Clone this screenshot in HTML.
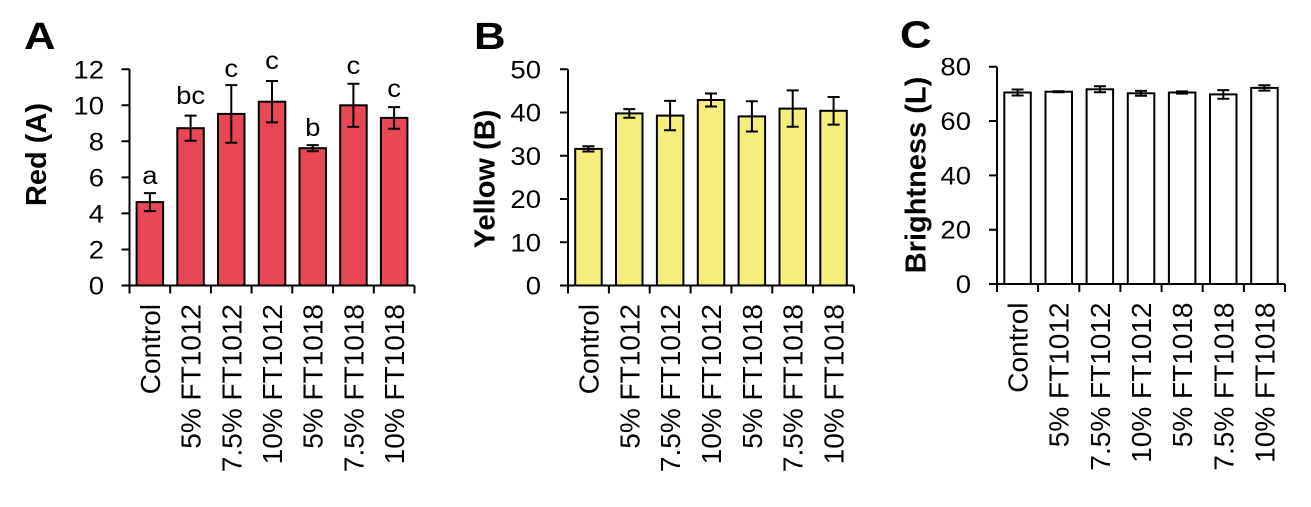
<!DOCTYPE html>
<html><head><meta charset="utf-8"><style>
html,body{margin:0;padding:0;background:#fff;}
svg{display:block;}
text{font-family:"Liberation Sans",Arial,sans-serif;fill:#000;}
.t{font-size:25px;}
.xl{font-size:28px;}
.yt{font-size:29px;font-weight:bold;}
.pl{font-size:38px;font-weight:bold;}
</style></head><body>
<svg width="1311" height="507" viewBox="0 0 1311 507" xmlns="http://www.w3.org/2000/svg">
<rect x="0" y="0" width="1311" height="507" fill="#fff"/>

<!-- ================= PANEL A ================= -->
<text class="pl" transform="translate(24,49) scale(1.15,1)">A</text>
<text class="yt" transform="translate(46,154.5) rotate(-90)" text-anchor="middle">Red (A)</text>
<g stroke="#000" stroke-width="2" fill="#E84855">
<rect x="136.6" y="202.1" width="26.5" height="83.4"/>
<rect x="177.3" y="128.2" width="26.5" height="157.3"/>
<rect x="218.0" y="113.9" width="26.5" height="171.6"/>
<rect x="258.8" y="101.7" width="26.5" height="183.8"/>
<rect x="299.5" y="148.2" width="26.5" height="137.3"/>
<rect x="340.2" y="105.3" width="26.5" height="180.2"/>
<rect x="380.9" y="117.9" width="26.5" height="167.6"/>
</g>
<g stroke="#000" stroke-width="2" fill="none">
<path d="M149.9 193.1V211.1M143.9 193.1H155.9M143.9 211.1H155.9"/>
<path d="M190.6 115.6V140.8M184.6 115.6H196.6M184.6 140.8H196.6"/>
<path d="M231.3 85.1V142.7M225.3 85.1H237.3M225.3 142.7H237.3"/>
<path d="M272.0 81.0V122.4M266.0 81.0H278.0M266.0 122.4H278.0"/>
<path d="M312.7 145.1V151.3M306.7 145.1H318.7M306.7 151.3H318.7"/>
<path d="M353.4 83.7V126.9M347.4 83.7H359.4M347.4 126.9H359.4"/>
<path d="M394.1 107.1V128.7M388.1 107.1H400.1M388.1 128.7H400.1"/>
<path d="M129.5 69.3V285.5"/>
<path d="M121.5 285.5H414.5"/>
<path d="M121.5 69.3H129.5M121.5 105.3H129.5M121.5 141.3H129.5M121.5 177.4H129.5M121.5 213.4H129.5M121.5 249.5H129.5"/>
<path d="M129.5 285.5V293.5M170.2 285.5V293.5M210.9 285.5V293.5M251.6 285.5V293.5M292.3 285.5V293.5M333.1 285.5V293.5M373.8 285.5V293.5M414.5 285.5V293.5"/>
</g>
<g class="t" text-anchor="end">
<text transform="translate(104,78.3) scale(1.1,1)">12</text>
<text transform="translate(104,114.3) scale(1.1,1)">10</text>
<text transform="translate(104,150.3) scale(1.1,1)">8</text>
<text transform="translate(104,186.4) scale(1.1,1)">6</text>
<text transform="translate(104,222.4) scale(1.1,1)">4</text>
<text transform="translate(104,258.5) scale(1.1,1)">2</text>
<text transform="translate(104,294.5) scale(1.1,1)">0</text>
</g>
<g class="t" text-anchor="middle">
<text transform="translate(149.9,184) scale(1.1,1)">a</text>
<text transform="translate(190.6,104) scale(1.1,1)">bc</text>
<text transform="translate(231.3,77) scale(1.1,1)">c</text>
<text transform="translate(272.0,69) scale(1.1,1)">c</text>
<text transform="translate(312.7,136) scale(1.1,1)">b</text>
<text transform="translate(353.4,74) scale(1.1,1)">c</text>
<text transform="translate(394.1,97) scale(1.1,1)">c</text>
</g>
<g class="xl" text-anchor="end">
<text transform="translate(159.9,304) rotate(-90)">Control</text>
<text transform="translate(200.6,304) rotate(-90)">5% FT1012</text>
<text transform="translate(241.3,304) rotate(-90)">7.5% FT1012</text>
<text transform="translate(282.0,304) rotate(-90)">10% FT1012</text>
<text transform="translate(322.7,304) rotate(-90)">5% FT1018</text>
<text transform="translate(363.4,304) rotate(-90)">7.5% FT1018</text>
<text transform="translate(404.1,304) rotate(-90)">10% FT1018</text>
</g>

<!-- ================= PANEL B ================= -->
<text class="pl" transform="translate(474,49) scale(1.15,1)">B</text>
<text class="yt" transform="translate(494.7,179) rotate(-90)" text-anchor="middle">Yellow (B)</text>
<g stroke="#000" stroke-width="2" fill="#F4EE7C">
<rect x="575.2" y="148.9" width="26.5" height="136.6"/>
<rect x="616.0" y="113.4" width="26.5" height="172.1"/>
<rect x="656.9" y="115.6" width="26.5" height="169.9"/>
<rect x="697.8" y="100.0" width="26.5" height="185.5"/>
<rect x="738.6" y="116.4" width="26.5" height="169.1"/>
<rect x="779.5" y="108.6" width="26.5" height="176.9"/>
<rect x="820.3" y="110.8" width="26.5" height="174.7"/>
</g>
<g stroke="#000" stroke-width="2" fill="none">
<path d="M588.4 146.3V151.5M582.4 146.3H594.4M582.4 151.5H594.4"/>
<path d="M629.3 109.1V117.7M623.3 109.1H635.3M623.3 117.7H635.3"/>
<path d="M670.1 100.9V130.3M664.1 100.9H676.1M664.1 130.3H676.1"/>
<path d="M711.0 93.5V106.5M705.0 93.5H717.0M705.0 106.5H717.0"/>
<path d="M751.9 101.3V131.5M745.9 101.3H757.9M745.9 131.5H757.9"/>
<path d="M792.7 90.4V126.8M786.7 90.4H798.7M786.7 126.8H798.7"/>
<path d="M833.6 97.0V124.6M827.6 97.0H839.6M827.6 124.6H839.6"/>
<path d="M568 69.3V285.5"/>
<path d="M560 285.5H854"/>
<path d="M560 69.3H568M560 112.5H568M560 155.8H568M560 199.0H568M560 242.3H568"/>
<path d="M568 285.5V293.5M608.9 285.5V293.5M649.7 285.5V293.5M690.6 285.5V293.5M731.4 285.5V293.5M772.3 285.5V293.5M813.1 285.5V293.5M854 285.5V293.5"/>
</g>
<g class="t" text-anchor="end">
<text transform="translate(541,78.3) scale(1.1,1)">50</text>
<text transform="translate(541,121.5) scale(1.1,1)">40</text>
<text transform="translate(541,164.8) scale(1.1,1)">30</text>
<text transform="translate(541,208.0) scale(1.1,1)">20</text>
<text transform="translate(541,251.3) scale(1.1,1)">10</text>
<text transform="translate(541,294.5) scale(1.1,1)">0</text>
</g>
<g class="xl" text-anchor="end">
<text transform="translate(598.4,304) rotate(-90)">Control</text>
<text transform="translate(639.3,304) rotate(-90)">5% FT1012</text>
<text transform="translate(680.1,304) rotate(-90)">7.5% FT1012</text>
<text transform="translate(721.0,304) rotate(-90)">10% FT1012</text>
<text transform="translate(761.9,304) rotate(-90)">5% FT1018</text>
<text transform="translate(802.7,304) rotate(-90)">7.5% FT1018</text>
<text transform="translate(843.6,304) rotate(-90)">10% FT1018</text>
</g>

<!-- ================= PANEL C ================= -->
<text class="pl" transform="translate(900,47.5) scale(1.15,1)">C</text>
<text class="yt" transform="translate(925.5,175) rotate(-90)" text-anchor="middle">Brightness (L)</text>
<g stroke="#000" stroke-width="2" fill="#fff">
<rect x="1004.3" y="92.5" width="26.5" height="191.5"/>
<rect x="1045.5" y="91.7" width="26.5" height="192.3"/>
<rect x="1086.6" y="89.3" width="26.5" height="194.7"/>
<rect x="1127.8" y="93.3" width="26.5" height="190.7"/>
<rect x="1168.9" y="92.5" width="26.5" height="191.5"/>
<rect x="1210.0" y="94.4" width="26.5" height="189.6"/>
<rect x="1251.2" y="87.9" width="26.5" height="196.1"/>
</g>
<g stroke="#000" stroke-width="2" fill="none">
<path d="M1017.6 89.5V95.5M1011.6 89.5H1023.6M1011.6 95.5H1023.6"/>
<path d="M1058.7 91.2V92.2M1052.7 91.2H1064.7M1052.7 92.2H1064.7"/>
<path d="M1099.9 86.3V92.3M1093.9 86.3H1105.9M1093.9 92.3H1105.9"/>
<path d="M1141.0 90.9V95.7M1135.0 90.9H1147.0M1135.0 95.7H1147.0"/>
<path d="M1182.1 91.4V93.6M1176.1 91.4H1188.1M1176.1 93.6H1188.1"/>
<path d="M1223.3 90.1V98.7M1217.3 90.1H1229.3M1217.3 98.7H1229.3"/>
<path d="M1264.4 85.2V90.6M1258.4 85.2H1270.4M1258.4 90.6H1270.4"/>
<path d="M997 66.7V284"/>
<path d="M989 284H1285"/>
<path d="M989 66.7H997M989 121.0H997M989 175.4H997M989 229.7H997"/>
<path d="M997 284V292M1038.1 284V292M1079.3 284V292M1120.4 284V292M1161.6 284V292M1202.7 284V292M1243.9 284V292M1285 284V292"/>
</g>
<g class="t" text-anchor="end">
<text transform="translate(971,75.7) scale(1.1,1)">80</text>
<text transform="translate(971,130.0) scale(1.1,1)">60</text>
<text transform="translate(971,184.4) scale(1.1,1)">40</text>
<text transform="translate(971,238.7) scale(1.1,1)">20</text>
<text transform="translate(971,293.0) scale(1.1,1)">0</text>
</g>
<g class="xl" text-anchor="end">
<text transform="translate(1027.6,302.5) rotate(-90)">Control</text>
<text transform="translate(1068.7,302.5) rotate(-90)">5% FT1012</text>
<text transform="translate(1109.9,302.5) rotate(-90)">7.5% FT1012</text>
<text transform="translate(1151.0,302.5) rotate(-90)">10% FT1012</text>
<text transform="translate(1192.1,302.5) rotate(-90)">5% FT1018</text>
<text transform="translate(1233.3,302.5) rotate(-90)">7.5% FT1018</text>
<text transform="translate(1274.4,302.5) rotate(-90)">10% FT1018</text>
</g>
</svg>
</body></html>
